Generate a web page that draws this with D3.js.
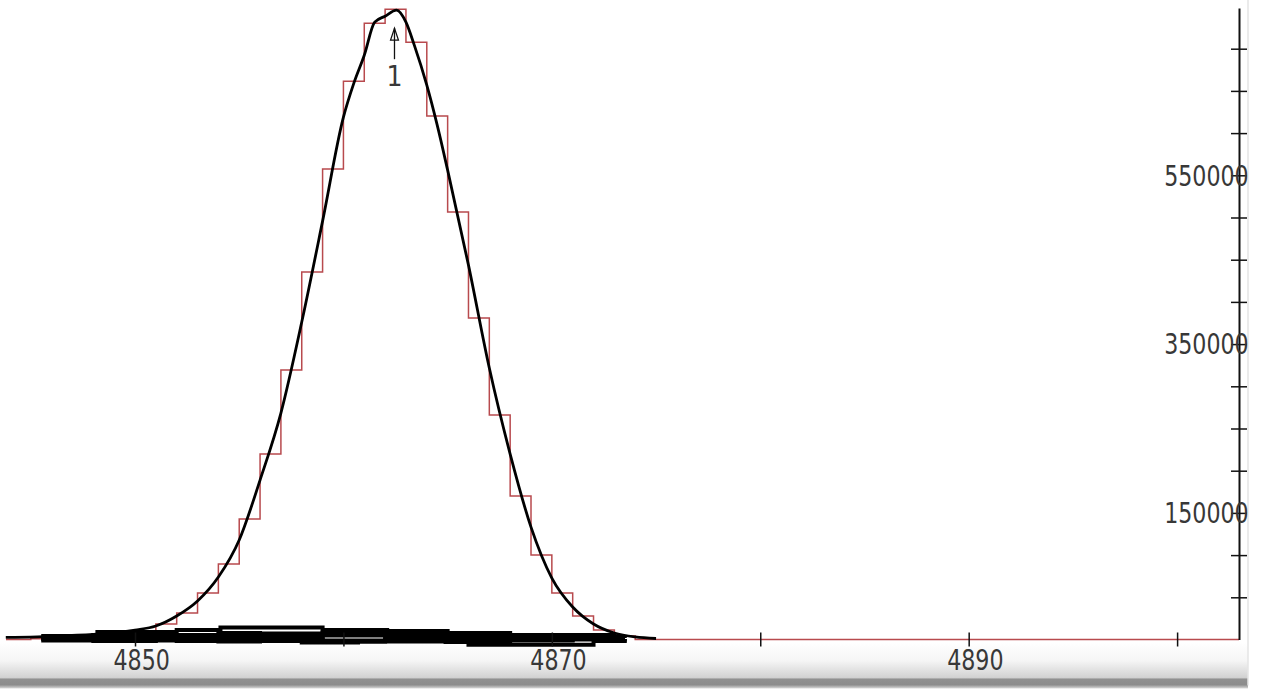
<!DOCTYPE html>
<html>
<head>
<meta charset="utf-8">
<script src="https://cdn.jsdelivr.net/npm/d3@7/dist/d3.min.js"></script>
<style>
body { margin: 0; background: #fff; }
svg { display: block; }
.lbl { font-family: "DejaVu Sans Condensed", "Liberation Sans Narrow", "Liberation Sans", sans-serif; font-size: 28px; fill: #383838; }
</style>
</head>
<body>
<div id="chart"></div>
<script>

// -----------------------------------------------------------------------------
// Data
// -----------------------------------------------------------------------------

// histogram bins, one unit wide, value = bin height
var binStarts = [4845, 4846, 4847, 4848, 4849, 4850, 4851, 4852, 4853, 4854,
                 4855, 4856, 4857, 4858, 4859, 4860, 4861, 4862, 4863, 4864,
                 4865, 4866, 4867, 4868, 4869, 4870, 4871, 4872, 4873, 4874];
var binCounts = [1000, 3000, 4000, 5000, 6000, 8900, 18400, 31400, 55100, 89400,
                 142800, 219800, 319300, 435400, 557400, 661500, 730300, 746800, 707700, 620200,
                 506500, 380900, 266000, 170000, 100100, 55100, 27800, 11300, 4100, 0];

// fitted peak curve
var fitX = [4843.8, 4846.4, 4848.3, 4850, 4851, 4852, 4853, 4854, 4855, 4856,
            4857, 4858, 4859, 4860, 4860.5, 4861, 4861.5, 4862, 4862.55, 4863,
            4863.4, 4864, 4864.5, 4865, 4866, 4867, 4868, 4869, 4870, 4871,
            4872, 4873, 4874, 4875];
var fitY = [2400, 4100, 6500, 11200, 16000, 27800, 45600, 74000, 117900, 188900,
            268300, 376100, 495700, 618900, 659200, 692300, 731400, 738500, 745600, 731400,
            704200, 656800, 609400, 556100, 443600, 321600, 219700, 133200, 72800, 38500,
            18400, 7700, 3000, 1200];

// residual traces around the baseline
var resUpperX = [4848.1, 4852, 4854.1, 4859, 4862.1, 4865, 4868, 4873.1];
var resUpperY = [8900, 11300, 14200, 11300, 10100, 7700, 5300, 5300];
var resX = [4845.5, 4848, 4851, 4854, 4856, 4859, 4862, 4865, 4868, 4871, 4873.5];
var resA = [4100, 5300, 5300, 7700, 7100, 8300, 7100, 4700, 3600, 3000, 1800];
var resB = [2400, 3000, 3600, 4100, 3000, 4700, 3600, 2400, 1800, 1800, 1800];
var resC = [600, 600, 0, -600, 600, -1200, 0, 600, 0, 600, 600];
var resD = [-1200, -1800, -1200, -2400, -1200, -2400, -1200, -1800, -1200, 0, 600];
var resLowerX = [4847, 4852, 4858, 4860.7, 4864.9, 4866, 4872, 4873.5];
var resLowerY = [-600, -1800, -3600, -2400, -3000, -6200, -1800, 600];

var xTicks = [4850, 4860, 4870, 4880, 4890, 4900];
var xLabels = [4850, 4870, 4890];
var yTicks = d3.range(50000, 750000, 50000);
var yLabels = [150000, 350000, 550000];

var peakMark = {x: 4862.45, y: 746800, label: "1"};

// -----------------------------------------------------------------------------
// D3 Configurations
// -----------------------------------------------------------------------------

var width = 1275,
    height = 690,
    plot = {left: 6, right: 1239, top: 8, bottom: 639.5};

var xScale = d3.scaleLinear()
    .domain([4843.81, 4902.97])
    .range([plot.left, plot.right]);

var yScale = d3.scaleLinear()
    .domain([0, 748220])
    .range([plot.bottom, plot.top]);

var svg = d3.select("#chart").append("svg")
    .attr("width", width)
    .attr("height", height);

var defs = svg.append("defs");
var grad = defs.append("linearGradient")
    .attr("id", "panel")
    .attr("x1", 0).attr("y1", 0).attr("x2", 0).attr("y2", 1);
[["0%", "#ffffff"], ["40%", "#f5f5f5"], ["76%", "#d2d2d2"], ["80%", "#909090"], ["92%", "#8c8c8c"], ["100%", "#dadada"]]
  .forEach(function(s) {
    grad.append("stop").attr("offset", s[0]).attr("stop-color", s[1]);
  });

// grey panel under the axis
svg.append("rect")
    .attr("x", 0)
    .attr("y", plot.bottom + 3)
    .attr("width", plot.right + 9)
    .attr("height", 46)
    .attr("fill", "url(#panel)");

svg.append("line")
    .attr("x1", plot.right + 9).attr("x2", plot.right + 9)
    .attr("y1", 0).attr("y2", plot.bottom + 46)
    .attr("stroke", "#e4e4e4")
    .attr("stroke-width", 1.5);

// histogram
var stepLine = d3.line()
    .x(function(d) { return xScale(d[0]); })
    .y(function(d) { return yScale(d[1]); })
    .curve(d3.curveStepAfter);

var histPts = [[xScale.domain()[0], 0]]
  .concat(binStarts.map(function(b, i) { return [b, binCounts[i]]; }))
  .concat([[xScale.domain()[1], 0]]);

svg.append("path")
    .datum(histPts)
    .attr("fill", "none")
    .attr("stroke", "#b84a4e")
    .attr("stroke-width", 1.5)
    .attr("d", stepLine);

// residual traces
function zip(xs, ys) {
  return xs.map(function(x, i) { return [x, ys[i]]; });
}

[zip(resUpperX, resUpperY), zip(resX, resA), zip(resX, resB), zip(resX, resC), zip(resX, resD), zip(resLowerX, resLowerY)]
  .forEach(function(pts) {
    svg.append("path")
        .datum(pts)
        .attr("fill", "none")
        .attr("stroke", "#000")
        .attr("stroke-width", 4)
        .attr("d", stepLine);
  });

// fitted curve
var fitLine = d3.line()
    .x(function(d) { return xScale(d[0]); })
    .y(function(d) { return yScale(d[1]); })
    .curve(d3.curveMonotoneX);

svg.append("path")
    .datum(zip(fitX, fitY))
    .attr("fill", "none")
    .attr("stroke", "#000")
    .attr("stroke-width", 2.8)
    .attr("d", fitLine);

// x axis ticks
var xAxis = svg.append("g")
    .attr("transform", "translate(0," + plot.bottom + ")")
    .call(d3.axisBottom(xScale)
        .tickValues(xTicks)
        .tickSize(7)
        .tickFormat(function(d) { return xLabels.indexOf(d) >= 0 ? d : ""; }));
xAxis.attr("font-size", null).attr("font-family", null);
xAxis.select(".domain").remove();
xAxis.selectAll(".tick line")
    .attr("y1", -7)
    .attr("stroke", "#111")
    .attr("stroke-width", 1.5);
xAxis.selectAll(".tick text")
    .attr("class", "lbl")
    .attr("fill", null)
    .attr("x", 7)
    .attr("y", 31)
    .attr("dy", 0)
    .attr("transform", "scale(0.88,1)");

// y axis on the right
var yAxis = svg.append("g")
    .attr("transform", "translate(" + plot.right + ",0)")
    .call(d3.axisRight(yScale)
        .tickValues(yTicks)
        .tickSize(8)
        .tickSizeOuter(0)
        .tickFormat(function(d) { return yLabels.indexOf(d) >= 0 ? d : ""; }));
yAxis.attr("font-size", null).attr("font-family", null);
yAxis.select(".domain")
    .attr("stroke", "#111")
    .attr("stroke-width", 2);
yAxis.selectAll(".tick line")
    .attr("x1", -8)
    .attr("stroke", "#111")
    .attr("stroke-width", 1.5);
yAxis.selectAll(".tick text")
    .attr("class", "lbl")
    .attr("fill", null)
    .attr("text-anchor", "end")
    .attr("x", 11)
    .attr("dy", "0.35em")
    .attr("transform", "scale(0.88,1)");

// peak marker
var mx = xScale(peakMark.x),
    my = yScale(peakMark.y);
svg.append("line")
    .attr("x1", mx).attr("x2", mx)
    .attr("y1", my + 19).attr("y2", my + 50)
    .attr("stroke", "#111")
    .attr("stroke-width", 1.3);
svg.append("path")
    .attr("d", "M" + (mx - 4) + "," + (my + 31) + "L" + mx + "," + (my + 19) + "L" + (mx + 4) + "," + (my + 31) + "Z")
    .attr("fill", "none")
    .attr("stroke", "#111")
    .attr("stroke-width", 1.2);
svg.append("text")
    .attr("class", "lbl")
    .attr("x", mx)
    .attr("y", my + 77)
    .attr("text-anchor", "middle")
    .text(peakMark.label);

</script>
</body>
</html>
